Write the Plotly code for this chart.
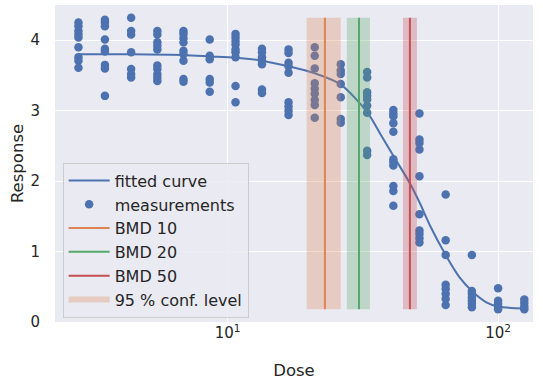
import plotly.graph_objects as go

# ---- data ----
doses = [2.81, 3.52, 4.40, 5.50, 6.87, 8.59, 10.7, 13.4, 16.8, 21.0,
         26.2, 32.8, 41.0, 51.2, 64.0, 80.0, 100.0, 125.0]
responses = [
    [4.25, 4.20, 4.13, 4.08, 4.04, 3.90, 3.76, 3.71, 3.61],
    [4.29, 4.25, 4.20, 4.01, 3.88, 3.84, 3.65, 3.60, 3.21],
    [4.32, 4.13, 4.08, 3.83, 3.59, 3.52, 3.47],
    [4.13, 4.08, 3.97, 3.92, 3.87, 3.64, 3.59, 3.52, 3.47, 3.42],
    [4.13, 4.09, 4.03, 3.97, 3.85, 3.80, 3.71, 3.45, 3.41],
    [4.01, 3.78, 3.73, 3.45, 3.40, 3.27],
    [4.09, 4.04, 3.99, 3.94, 3.87, 3.83, 3.76, 3.35, 3.12],
    [3.88, 3.83, 3.76, 3.71, 3.66, 3.30, 3.25],
    [3.87, 3.82, 3.68, 3.63, 3.54, 3.12, 3.06, 3.00, 2.94],
    [3.90, 3.78, 3.60, 3.39, 3.31, 3.24, 3.15, 3.08, 2.90],
    [3.66, 3.57, 3.52, 3.38, 3.19, 2.88, 2.83],
    [3.55, 3.47, 3.26, 3.21, 3.16, 3.07, 2.97, 2.43, 2.37],
    [3.01, 2.96, 2.92, 2.82, 2.70, 2.31, 2.27, 2.22, 1.93, 1.86, 1.65],
    [2.96, 2.59, 2.54, 2.45, 2.07, 1.53, 1.30, 1.25, 1.19, 1.13],
    [1.81, 1.16, 0.95, 0.53, 0.47, 0.40, 0.33, 0.24],
    [0.95, 0.44, 0.40, 0.35, 0.30, 0.26, 0.21],
    [0.48, 0.30, 0.26, 0.22, 0.18],
    [0.32, 0.27, 0.22, 0.18],
]

curve_dose = [2.81, 4.40, 6.87, 8.59, 10.7, 13.4, 16.8, 21.0, 26.2, 32.8, 36.7,
              41.0, 47.0, 51.2, 56.0, 64.0, 71.8, 80.0, 90.5, 100.0, 125.0]
curve_resp = [3.80, 3.80, 3.79, 3.77, 3.75, 3.71, 3.63, 3.53, 3.37, 2.98, 2.67,
              2.36, 1.98, 1.70, 1.37, 0.95, 0.64, 0.44, 0.28, 0.22, 0.19]

bmd_names = ["BMD 10", "BMD 20", "BMD 50"]
bmd_values = [22.9, 30.6, 47.2]
bmd_lower = [19.6, 27.6, 44.5]
bmd_upper = [26.2, 33.6, 50.1]

x_ticks = [10, 100]
x_tick_labels = ["10<sup>1</sup>", "10<sup>2</sup>"]
y_ticks = [0, 1, 2, 3, 4]

# ---- styling ----
BLUE = "#4c72b0"
line_colors = ["#dd8452", "#55a868", "#c44e52"]
band_colors = ["rgba(221,132,82,0.3)", "rgba(85,168,104,0.3)", "rgba(196,78,82,0.3)"]
FONT = "DejaVu Sans"
TXT = "#262626"

pts_x = [d for d, rs in zip(doses, responses) for _ in rs]
pts_y = [r for rs in responses for r in rs]
ymin, ymax = min(pts_y), max(pts_y)

fig = go.Figure()
fig.add_trace(go.Scatter(x=curve_dose, y=curve_resp, mode="lines",
                         line=dict(color=BLUE, width=2, shape="spline", smoothing=0.8),
                         name="fitted curve", legendrank=1))
fig.add_trace(go.Scatter(x=pts_x, y=pts_y, mode="markers",
                         marker=dict(color=BLUE, size=8.5, line=dict(width=0)),
                         name="measurements", legendrank=2))
for i in range(3):
    lo, hi = bmd_lower[i], bmd_upper[i]
    fig.add_trace(go.Scatter(x=[lo, hi, hi, lo, lo], y=[ymin, ymin, ymax, ymax, ymin],
                             mode="none", fill="toself", fillcolor=band_colors[i],
                             name="95 % conf. level", showlegend=(i == 0),
                             legendrank=6, hoverinfo="skip"))
for i in range(3):
    fig.add_trace(go.Scatter(x=[bmd_values[i], bmd_values[i]], y=[ymin, ymax],
                             mode="lines", line=dict(color=line_colors[i], width=2),
                             name=bmd_names[i], legendrank=3 + i))

fig.update_layout(
    width=543, height=380,
    margin=dict(l=55, r=10, t=5, b=58, autoexpand=False),
    paper_bgcolor="white", plot_bgcolor="#eaeaf2",
    font=dict(family=FONT, color=TXT, size=15),
    legend=dict(x=0.016, y=0.014, xanchor="left", yanchor="bottom",
                bgcolor="rgba(234,234,242,0.85)", bordercolor="#cccccc", borderwidth=1,
                font=dict(size=16, family=FONT, color=TXT), tracegroupgap=0,
                itemwidth=41),
    showlegend=True,
)
fig.update_xaxes(type="log", range=[0.362, 2.129], tickvals=x_ticks, ticktext=x_tick_labels,
                 showgrid=True, gridcolor="white", gridwidth=1.4, zeroline=False,
                 showline=False, ticks="", tickfont=dict(size=15), automargin=False,
                 title=dict(text="Dose", font=dict(size=16.5), standoff=26))
fig.update_yaxes(range=[0, 4.5], tickvals=y_ticks, showgrid=True, gridcolor="white",
                 gridwidth=1.4, zeroline=False, showline=False, ticks="",
                 ticklabelstandoff=14, tickfont=dict(size=15), automargin=False,
                 title=dict(text="Response", font=dict(size=16.5), standoff=2))

fig.write_html("out.html", config={"displayModeBar": False},
               post_script="document.body.style.margin='0';")
